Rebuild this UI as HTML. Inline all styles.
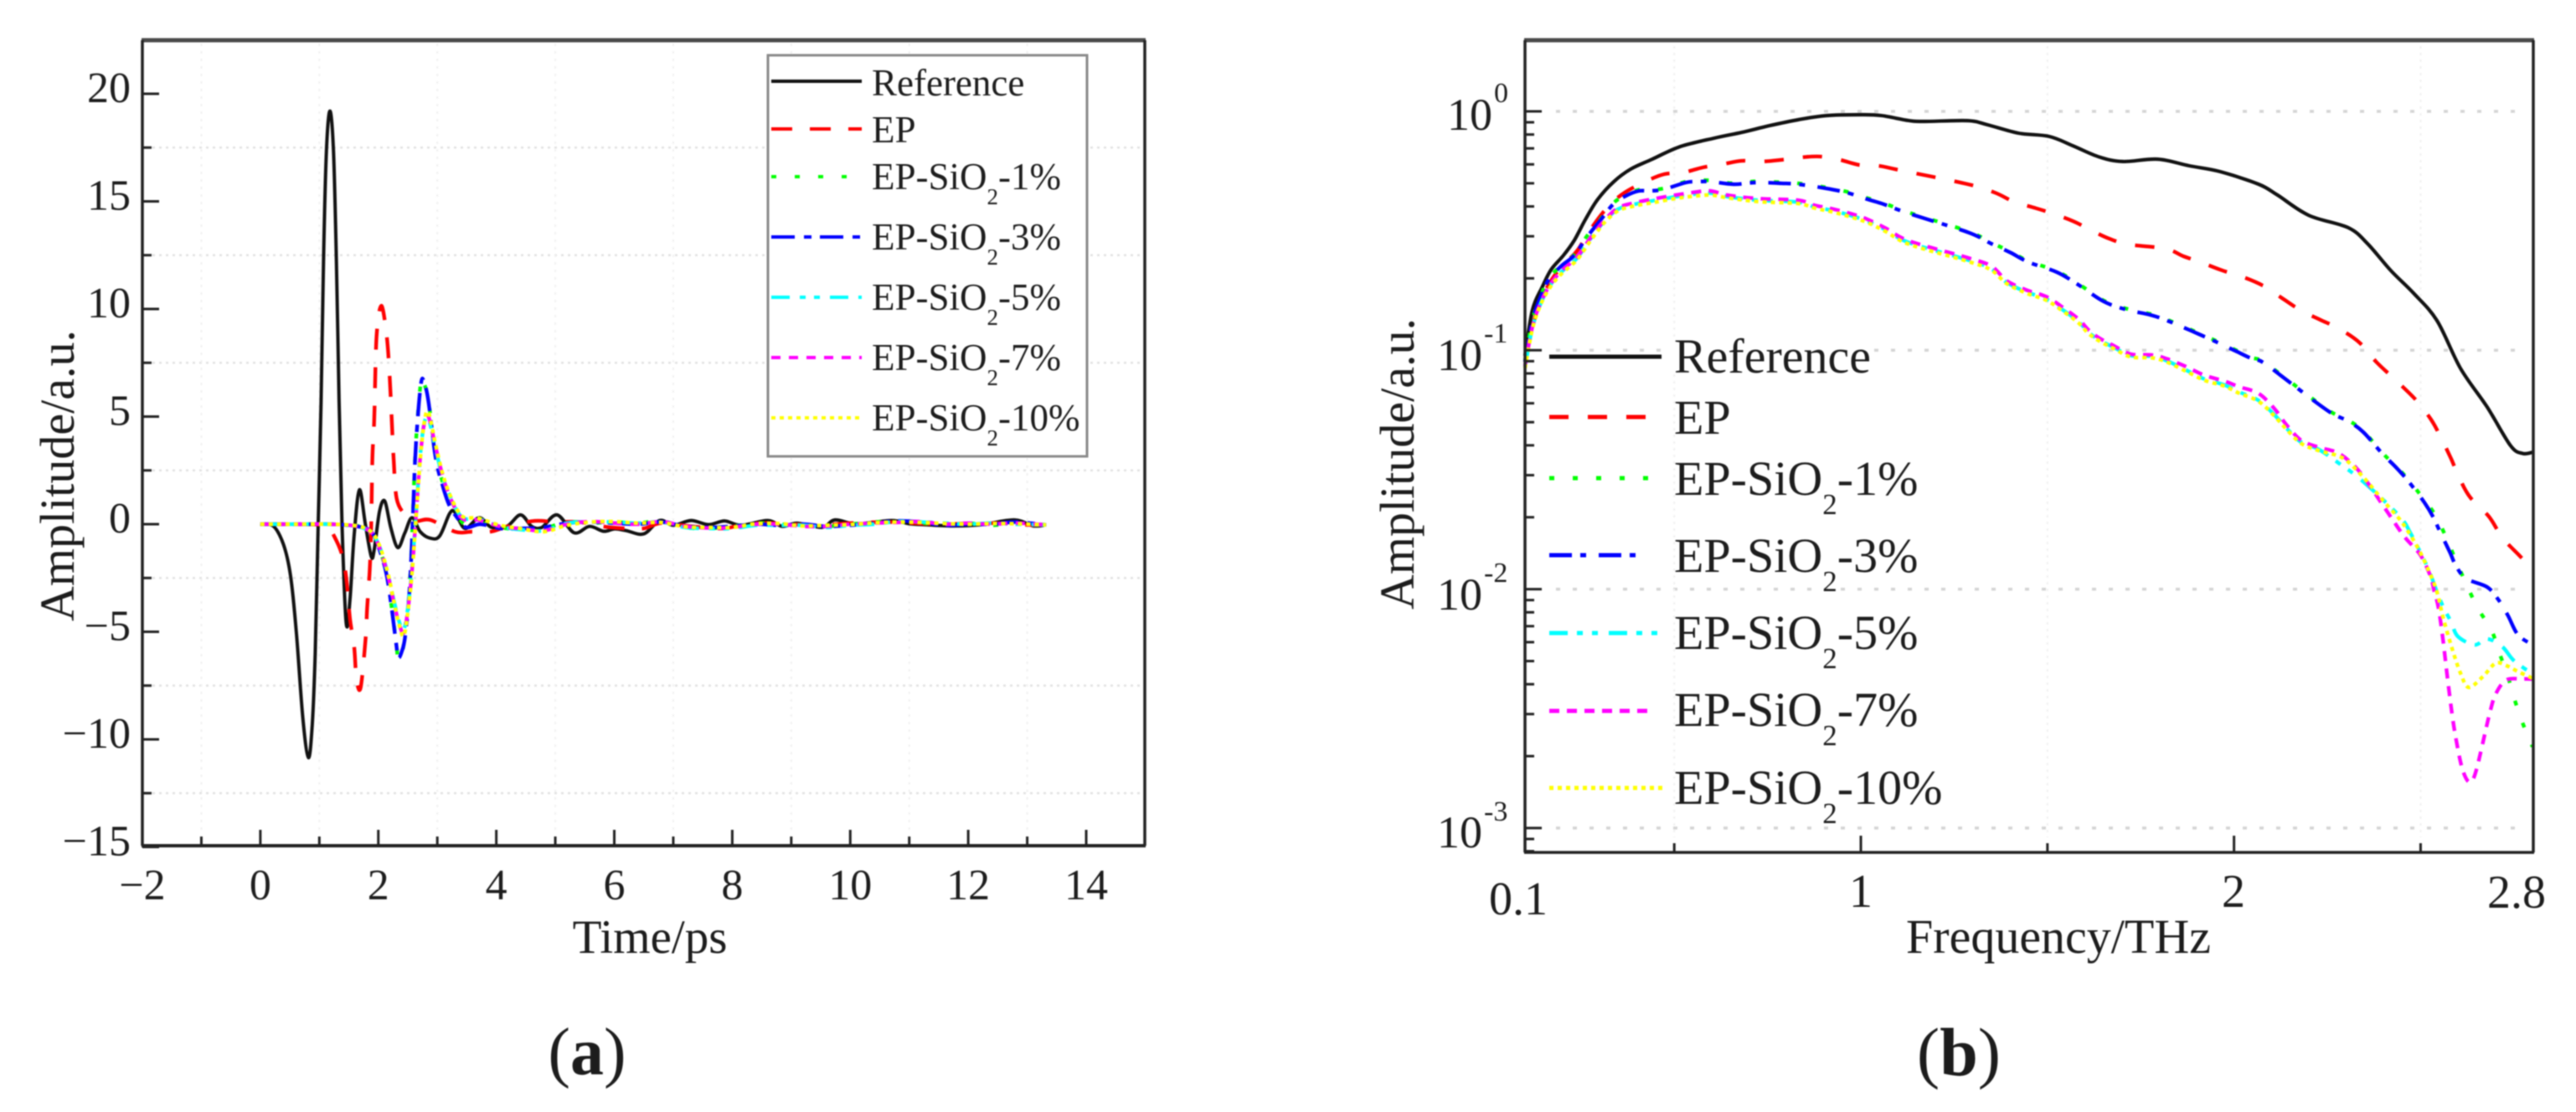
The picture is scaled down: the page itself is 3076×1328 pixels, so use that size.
<!DOCTYPE html>
<html lang="en">
<head>
<meta charset="utf-8">
<title>Amplitude versus time and frequency</title>
<style>
html,body{margin:0;padding:0;background:#fff;width:3076px;height:1328px;overflow:hidden}
svg{display:block;filter:blur(0.9px)}
text{font-family:"Liberation Serif",serif;fill:#1c1c1c}
</style>
</head>
<body>
<svg id="figure" xmlns="http://www.w3.org/2000/svg" width="3076" height="1328" viewBox="0 0 3076 1328">
  <rect x="0" y="0" width="3076" height="1328" fill="#fff"/>

  <g id="panelA">
    <g id="gridA"></g>
    <g id="seriesA"></g>
    <g id="axesA"></g>
    <text x="88" y="568" font-size="58" text-anchor="middle" transform="rotate(-90 88 568)">Amplitude/a.u.</text>
    <text x="776" y="1138" font-size="57" text-anchor="middle">Time/ps</text>
    <rect x="917" y="66" width="381" height="479" fill="#fff" stroke="#8a8a8a" stroke-width="3"/>
    <g id="legendLinesA"></g>
    <g font-size="45">
      <text x="1041" y="114">Reference</text>
      <text x="1041" y="170">EP</text>
      <text x="1041" y="226">EP-SiO<tspan dy="18" font-size="27">2</tspan><tspan dy="-18">-1%</tspan></text>
      <text x="1041" y="298">EP-SiO<tspan dy="18" font-size="27">2</tspan><tspan dy="-18">-3%</tspan></text>
      <text x="1041" y="370">EP-SiO<tspan dy="18" font-size="27">2</tspan><tspan dy="-18">-5%</tspan></text>
      <text x="1041" y="442">EP-SiO<tspan dy="18" font-size="27">2</tspan><tspan dy="-18">-7%</tspan></text>
      <text x="1041" y="514">EP-SiO<tspan dy="18" font-size="27">2</tspan><tspan dy="-18">-10%</tspan></text>
    </g>
    <text x="701" y="1283" font-size="80" text-anchor="middle">(<tspan font-weight="bold">a</tspan>)</text>
  </g>

  <g id="panelB">
    <g id="gridB"></g>
    <g id="seriesB"></g>
    <g id="axesB"></g>
    <g font-size="54">
      <text x="1782" y="155" text-anchor="end">10</text>
      <text x="1784" y="122" font-size="34">0</text>
      <text x="1770" y="442" text-anchor="end">10</text>
      <text x="1772" y="409" font-size="34">-1</text>
      <text x="1770" y="728" text-anchor="end">10</text>
      <text x="1772" y="695" font-size="34">-2</text>
      <text x="1770" y="1012" text-anchor="end">10</text>
      <text x="1772" y="980" font-size="34">-3</text>
    </g>
    <g font-size="56" text-anchor="middle">
      <text x="1813" y="1092">0.1</text>
      <text x="2222" y="1083">1</text>
      <text x="2667" y="1083">2</text>
      <text x="3005" y="1084">2.8</text>
    </g>
    <text x="1688" y="554" font-size="58" text-anchor="middle" transform="rotate(-90 1688 554)">Amplitude/a.u.</text>
    <text x="2458" y="1138" font-size="58" text-anchor="middle">Frequency/THz</text>
    <rect x="1990" y="404" width="246" height="40" fill="#fff"/>
    <g id="legendLinesB"></g>
    <g font-size="58">
      <text x="1999" y="445">Reference</text>
      <text x="1999" y="518">EP</text>
      <text x="1999" y="591">EP-SiO<tspan dy="23" font-size="35">2</tspan><tspan dy="-23">-1%</tspan></text>
      <text x="1999" y="683">EP-SiO<tspan dy="23" font-size="35">2</tspan><tspan dy="-23">-3%</tspan></text>
      <text x="1999" y="775">EP-SiO<tspan dy="23" font-size="35">2</tspan><tspan dy="-23">-5%</tspan></text>
      <text x="1999" y="867">EP-SiO<tspan dy="23" font-size="35">2</tspan><tspan dy="-23">-7%</tspan></text>
      <text x="1999" y="960">EP-SiO<tspan dy="23" font-size="35">2</tspan><tspan dy="-23">-10%</tspan></text>
    </g>
    <text x="2339" y="1284" font-size="82" text-anchor="middle">(<tspan font-weight="bold">b</tspan>)</text>
  </g>
</svg>

<script>
/* ---------- Panel (a): time-domain amplitude ---------- */
const timeTicks = [-2, 0, 2, 4, 6, 8, 10, 12, 14];
const timeMinorTicks = [-1, 1, 3, 5, 7, 9, 11, 13];
const ampTicks = [-15, -10, -5, 0, 5, 10, 15, 20];
const ampMinorTicks = [-12.5, -7.5, -2.5, 2.5, 7.5, 12.5, 17.5];

const timeReference = [0,.22,.39,.51,.61,.72,.815,.88,.93,.98,1.03,1.07,1.12,1.18,1.24,1.29,1.335,1.384,1.455,1.52,1.59,1.68,1.78,1.88,1.93,2.02,2.11,2.21,2.33,2.45,2.57,2.71,2.88,3.04,3.21,3.3,3.47,3.71,3.92,4.18,4.41,4.6,4.77,5.03,5.32,5.58,5.82,6.0,6.2,6.5,6.77,7.0,7.3,7.6,7.87,8.15,8.6,8.85,9.1,9.52,9.74,10.1,10.7,11.0,11.3,11.75,12.2,12.78,13.1,13.32];
const ampReference = [0,-.09,-.93,-2.36,-5,-9,-10.85,-9.3,-6,-.1,5.7,12.2,17.35,19.2,17.35,12.2,5.7,0,-4.6,-3.5,-.5,1.6,0,-1.5,-1.2,.6,1.07,-.15,-1.09,-.4,.3,-.35,-.65,-.55,.5,.55,-.2,.3,-.15,-.1,.43,-.1,-.15,.43,-.4,-.1,-.33,-.22,-.3,-.45,.17,-.05,.17,-.02,.15,-.05,.17,-.1,.05,-.15,.2,.02,.17,.02,-.03,-.08,-.03,.2,-.08,-.03];

const timeEP = [0,.5,1.0,1.15,1.25,1.37,1.45,1.52,1.59,1.63,1.70,1.785,1.81,1.855,1.88,1.90,1.93,1.97,2.05,2.14,2.19,2.225,2.26,2.31,2.45,2.64,2.88,3.3,3.59,3.9,4.2,4.65,5.0,5.4,5.8,6.2,6.5,6.8,7.3,7.85,8.2,8.6,9,9.5,10,10.6,11,11.5,12,12.6,13,13.32];
const ampEP = [0,0,-.02,-.15,-.55,-1.3,-2.35,-4.4,-5.7,-7.2,-7.6,-5.3,-3.9,-2.1,0,3.1,4.8,8.7,10.15,8.8,7,5,3,1.2,.45,.15,.2,-.35,-.35,-.35,-.1,.15,.1,.1,-.1,-.2,-.2,.05,-.1,-.2,0,.05,0,-.05,.05,.1,.05,0,.03,.05,-.03,-.03];

const timeFast = [0,.6,1.2,1.64,1.88,2.02,2.14,2.23,2.3,2.34,2.4,2.45,2.52,2.57,2.62,2.67,2.73,2.78,2.85,2.97,3.09,3.2,3.35,3.49,3.73,4.06,4.4,4.8,5.2,5.6,6.0,6.4,6.8,7.2,7.6,8,8.4,8.8,9.2,9.6,10,10.4,10.8,11.2,11.6,12,12.4,12.8,13.32];
const ampSiO2Pct1 = [0,0,0,-.08,-.3,-1.15,-2.3,-3.95,-5.45,-6.3,-6,-5.2,-3.3,-.7,2.9,5.1,6.75,6.5,5.75,3.2,1.95,1,.35,-.05,.05,-.15,-.25,-.2,.1,.05,.1,.05,.15,-.15,-.2,-.1,.05,0,-.05,-.1,0,.1,.1,.05,0,.05,-.05,.05,-.03];
const ampSiO2Pct3 = [0,0,0,-.1,-.35,-1.2,-2.35,-4,-5.5,-6.2,-5.9,-5.3,-3.4,-.8,2.8,5,6.65,6.55,5.7,3.1,1.8,.9,.25,-.15,0,-.2,-.2,-.15,.05,.1,.05,0,.1,-.1,-.15,-.1,0,-.05,0,-.1,-.05,.05,.15,.1,-.05,0,0,.1,-.03];

const timeSlow = [0,.6,1.2,1.64,1.88,2.02,2.16,2.26,2.35,2.43,2.5,2.57,2.64,2.71,2.78,2.85,2.97,3.09,3.2,3.35,3.47,3.68,4.06,4.4,4.8,5.2,5.6,6.0,6.4,6.8,7.2,7.6,8,8.4,8.8,9.2,9.6,10,10.4,10.8,11.2,11.6,12,12.4,12.8,13.32];
const ampSiO2Pct5 = [0,0,0,-.1,-.4,-1.05,-2.3,-3.5,-4.5,-4.9,-3.9,-2.1,.5,3.2,4.7,4.9,3.5,2.2,1.4,.55,.25,.25,-.1,-.25,-.3,.05,.1,.1,.05,.1,-.15,-.2,-.2,-.05,-.05,-.05,-.15,-.05,0,.12,.1,.05,0,.05,0,-.03];
const ampSiO2Pct7 = [0,0,0,-.1,-.38,-1.1,-2.35,-3.6,-4.6,-5.05,-4,-2.2,.4,3.1,4.7,5,3.6,2.25,1.35,.5,.2,.2,-.1,-.2,-.3,0,.12,.05,0,.12,-.1,-.18,-.15,0,0,-.1,-.1,0,.05,.08,.12,0,.05,0,.05,-.03];
const ampSiO2Pct10 = [0,0,0,-.08,-.35,-1.0,-2.25,-3.55,-4.65,-5.2,-4.1,-2.3,.3,3.0,4.75,5.2,3.7,2.35,1.45,.6,.3,.28,-.05,-.2,-.35,-.05,.1,.12,.05,.08,-.12,-.15,-.15,.02,.03,-.08,-.05,-.02,.06,.1,.08,.03,0,.03,.02,-.03];

/* ---------- Panel (b): spectra, amplitudes given as log10(amplitude) ---------- */
const freqMinorTicks = [0.5, 1.5, 2.5];
const freqMajorTicks = [1, 2];
const logAmpDecades = [0, -1, -2, -3];
const logAmpMinorMantissa = [2, 3, 4, 5, 6, 7, 8, 9];

const freqReference = [.10,.12,.147,.17,.203,.232,.262,.295,.338,.383,.441,.517,.607,.681,.755,.832,.906,1.002,1.056,1.13,1.17,1.287,1.339,1.422,1.505,1.568,1.639,1.702,1.796,1.88,1.962,2.066,2.117,2.2,2.306,2.358,2.42,2.481,2.544,2.607,2.678,2.741,2.773,2.8];
const logReference = [-1.023,-.831,-.733,-.662,-.603,-.54,-.452,-.368,-.294,-.242,-.2,-.147,-.112,-.088,-.06,-.035,-.018,-.014,-.018,-.039,-.042,-.039,-.056,-.091,-.105,-.144,-.191,-.21,-.2,-.228,-.252,-.305,-.351,-.435,-.487,-.554,-.666,-.761,-.876,-1.076,-1.237,-1.399,-1.432,-1.427];

const freqEP = [.10,.12,.143,.17,.199,.239,.277,.322,.367,.423,.473,.524,.576,.63,.681,.733,.787,.838,.89,.944,.995,1.047,1.101,1.287,1.359,1.411,1.464,1.511,1.568,1.619,1.666,1.718,1.817,1.864,1.92,1.967,2.025,2.077,2.129,2.18,2.232,2.283,2.337,2.382,2.436,2.488,2.528,2.555,2.582,2.604,2.633,2.683,2.719,2.764,2.8];
const logEP = [-1.048,-.901,-.789,-.708,-.648,-.585,-.491,-.4,-.34,-.294,-.263,-.256,-.235,-.221,-.207,-.21,-.203,-.193,-.189,-.203,-.224,-.228,-.245,-.305,-.34,-.379,-.403,-.426,-.459,-.499,-.533,-.557,-.575,-.606,-.637,-.665,-.694,-.729,-.782,-.834,-.873,-.911,-.969,-1.05,-1.129,-1.209,-1.29,-1.367,-1.455,-1.535,-1.616,-1.696,-1.784,-1.858,-1.917];

const freqSiO2Pct1 = [.10,.12,.143,.165,.199,.232,.266,.304,.338,.374,.405,.434,.473,.531,.565,.598,.659,.719,.787,.832,.906,.962,1.011,1.056,1.13,1.287,1.35,1.402,1.449,1.525,1.583,1.651,1.714,1.776,1.821,1.88,1.951,2.003,2.046,2.077,2.14,2.212,2.263,2.306,2.346,2.398,2.436,2.47,2.498,2.539,2.57,2.595,2.622,2.653,2.69,2.712,2.734,2.753,2.775,2.8];
const logSiO2Pct1 = [-1.045,-.872,-.768,-.698,-.642,-.6,-.522,-.448,-.382,-.347,-.328,-.328,-.322,-.294,-.289,-.289,-.301,-.293,-.297,-.301,-.318,-.336,-.36,-.381,-.424,-.502,-.55,-.588,-.627,-.669,-.722,-.792,-.827,-.848,-.872,-.911,-.96,-.998,-1.03,-1.046,-1.119,-1.205,-1.261,-1.293,-1.338,-1.43,-1.489,-1.546,-1.602,-1.689,-1.789,-1.882,-1.977,-2.079,-2.172,-2.271,-2.366,-2.468,-2.567,-2.66];

const freqSiO2Pct3 = [.10,.12,.143,.165,.199,.232,.266,.304,.338,.374,.405,.434,.473,.531,.565,.598,.659,.719,.787,.832,.906,.962,1.011,1.056,1.13,1.287,1.35,1.402,1.449,1.525,1.583,1.651,1.714,1.776,1.821,1.88,1.951,2.003,2.046,2.077,2.14,2.212,2.263,2.306,2.346,2.398,2.436,2.47,2.51,2.533,2.551,2.578,2.595,2.622,2.678,2.708,2.734,2.761,2.8];
const logSiO2Pct3 = [-1.048,-.876,-.771,-.701,-.645,-.603,-.526,-.452,-.386,-.351,-.333,-.333,-.326,-.298,-.294,-.294,-.305,-.298,-.301,-.305,-.322,-.34,-.365,-.386,-.428,-.506,-.554,-.592,-.631,-.673,-.726,-.796,-.831,-.852,-.876,-.915,-.964,-1.002,-1.034,-1.05,-1.123,-1.209,-1.265,-1.297,-1.342,-1.434,-1.493,-1.554,-1.637,-1.696,-1.756,-1.844,-1.903,-1.956,-1.991,-2.043,-2.11,-2.191,-2.233];

const freqSiO2Pct5 = [.10,.12,.143,.17,.199,.239,.277,.315,.351,.396,.45,.502,.547,.596,.643,.726,.832,.876,.921,.973,1.018,1.069,1.13,1.287,1.35,1.39,1.442,1.496,1.536,1.583,1.61,1.64,1.678,1.723,1.781,1.821,1.868,1.92,1.974,2.014,2.066,2.108,2.14,2.18,2.227,2.29,2.335,2.409,2.454,2.472,2.492,2.521,2.544,2.562,2.582,2.6,2.645,2.678,2.719,2.75,2.8];
const logSiO2Pct5 = [-1.07,-.905,-.8,-.722,-.67,-.615,-.53,-.456,-.408,-.388,-.372,-.358,-.348,-.342,-.357,-.372,-.38,-.4,-.414,-.436,-.46,-.498,-.55,-.622,-.66,-.715,-.755,-.785,-.825,-.88,-.925,-.958,-.988,-1.022,-1.026,-1.045,-1.08,-1.12,-1.145,-1.175,-1.21,-1.27,-1.325,-1.385,-1.415,-1.483,-1.535,-1.64,-1.714,-1.763,-1.823,-1.917,-2.012,-2.079,-2.138,-2.198,-2.233,-2.208,-2.241,-2.299,-2.355];

const freqSiO2Pct7 = [.10,.12,.143,.17,.199,.239,.277,.315,.351,.396,.45,.502,.547,.596,.643,.726,.832,.876,.921,.973,1.018,1.069,1.13,1.287,1.35,1.39,1.442,1.496,1.536,1.583,1.61,1.64,1.678,1.723,1.781,1.821,1.868,1.92,1.974,2.014,2.066,2.108,2.14,2.18,2.227,2.279,2.326,2.364,2.393,2.425,2.458,2.499,2.526,2.537,2.548,2.56,2.571,2.584,2.595,2.611,2.627,2.64,2.652,2.667,2.685,2.701,2.73,2.775,2.8];
const logSiO2Pct7 = [-1.066,-.901,-.796,-.719,-.666,-.61,-.526,-.452,-.403,-.382,-.365,-.351,-.34,-.333,-.351,-.365,-.372,-.393,-.407,-.428,-.452,-.491,-.543,-.613,-.648,-.708,-.747,-.775,-.815,-.869,-.915,-.95,-.981,-1.016,-1.02,-1.036,-1.066,-1.104,-1.129,-1.153,-1.181,-1.244,-1.311,-1.377,-1.406,-1.43,-1.49,-1.567,-1.635,-1.709,-1.783,-1.856,-1.944,-2.012,-2.079,-2.212,-2.359,-2.52,-2.629,-2.748,-2.804,-2.797,-2.741,-2.641,-2.52,-2.44,-2.38,-2.376,-2.376];

const freqSiO2Pct10 = [.10,.12,.143,.17,.199,.239,.277,.315,.351,.396,.45,.502,.547,.596,.643,.726,.832,.876,.921,.973,1.018,1.069,1.13,1.287,1.35,1.39,1.442,1.496,1.536,1.583,1.61,1.64,1.678,1.723,1.781,1.821,1.868,1.92,1.974,2.014,2.066,2.108,2.14,2.18,2.227,2.29,2.34,2.4,2.45,2.49,2.521,2.544,2.56,2.584,2.607,2.629,2.667,2.701,2.73,2.761,2.8];
const logSiO2Pct10 = [-1.075,-.91,-.805,-.73,-.678,-.622,-.538,-.462,-.415,-.395,-.38,-.365,-.356,-.35,-.362,-.378,-.386,-.405,-.42,-.442,-.466,-.505,-.557,-.628,-.665,-.72,-.76,-.79,-.83,-.885,-.93,-.962,-.993,-1.028,-1.032,-1.05,-1.085,-1.125,-1.15,-1.18,-1.214,-1.275,-1.33,-1.39,-1.42,-1.45,-1.52,-1.63,-1.72,-1.82,-1.92,-2.012,-2.117,-2.247,-2.352,-2.411,-2.366,-2.31,-2.32,-2.345,-2.373];

/* ---------- Axis functions ---------- */
function xA(t) { return 170 + (t + 2) * 70.44; }
function yA(v) { return 626 - v * 25.7; }
function xB(f) { return 1821 + (f - 0.1) * 445.6; }
function yB(logAmp) { return 133 - logAmp * 285.3; }

const NS = 'http://www.w3.org/2000/svg';
function line(parent, x1, y1, x2, y2, stroke, width, dash) {
  const el = document.createElementNS(NS, 'line');
  el.setAttribute('x1', x1);
  el.setAttribute('y1', y1);
  el.setAttribute('x2', x2);
  el.setAttribute('y2', y2);
  el.setAttribute('stroke', stroke);
  el.setAttribute('stroke-width', width);
  if (dash) el.setAttribute('stroke-dasharray', dash);
  parent.appendChild(el);
  return el;
}
function smoothPath(pts) {
  let d = 'M' + pts[0][0].toFixed(1) + ' ' + pts[0][1].toFixed(1);
  for (let i = 0; i < pts.length - 1; i++) {
    const p0 = pts[Math.max(i - 1, 0)], p1 = pts[i], p2 = pts[i + 1], p3 = pts[Math.min(i + 2, pts.length - 1)];
    const c1x = p1[0] + (p2[0] - p0[0]) / 6, c1y = p1[1] + (p2[1] - p0[1]) / 6;
    const c2x = p2[0] - (p3[0] - p1[0]) / 6, c2y = p2[1] - (p3[1] - p1[1]) / 6;
    d += 'C' + c1x.toFixed(1) + ' ' + c1y.toFixed(1) + ' ' + c2x.toFixed(1) + ' ' + c2y.toFixed(1) + ' ' + p2[0].toFixed(1) + ' ' + p2[1].toFixed(1);
  }
  return d;
}
function drawSeries(parent, xs, ys, xFn, yFn, color, width, dash, name) {
  const pts = xs.map((x, i) => [xFn(x), yFn(ys[i])]);
  const el = document.createElementNS(NS, 'path');
  el.setAttribute('d', smoothPath(pts));
  el.setAttribute('fill', 'none');
  el.setAttribute('stroke', color);
  el.setAttribute('stroke-width', width);
  el.setAttribute('stroke-linejoin', 'round');
  if (dash) el.setAttribute('stroke-dasharray', dash);
  
  
  parent.appendChild(el);
}

/* ---------- Draw panel (a) ---------- */
const gridA = document.getElementById('gridA');
const seriesA = document.getElementById('seriesA');
const axesA = document.getElementById('axesA');
const legendLinesA = document.getElementById('legendLinesA');
const left = 170, right = 1367, top_ = 48, bottom = 1010;

ampMinorTicks.forEach(v => {
  const g = line(gridA, 182, yA(v), 1362, yA(v), '#e2e2e2', 2.5, '3 5');
  
  
});
timeMinorTicks.forEach(t => {
  const g = line(gridA, xA(t), 52, xA(t), 995, '#f1f1f1', 2, '3 6');
  
  
});

const dashA = { ep: '25 21', p1: '6 22', p3: '28 11 9 10', p5: '22 12 7 10 7 12', p7: '11 10', p10: '5 5' };
drawSeries(seriesA, timeReference, ampReference, xA, yA, '#111', 4, null, 'series-reference-time');
drawSeries(seriesA, timeEP, ampEP, xA, yA, '#ff0000', 4.4, dashA.ep, 'series-ep-time');
drawSeries(seriesA, timeFast, ampSiO2Pct1, xA, yA, '#00ff00', 4.4, dashA.p1, 'series-sio2-1-time');
drawSeries(seriesA, timeFast, ampSiO2Pct3, xA, yA, '#0000ff', 4.4, dashA.p3, 'series-sio2-3-time');
drawSeries(seriesA, timeSlow, ampSiO2Pct5, xA, yA, '#00ffff', 4.4, dashA.p5, 'series-sio2-5-time');
drawSeries(seriesA, timeSlow, ampSiO2Pct7, xA, yA, '#ff00ff', 4.4, dashA.p7, 'series-sio2-7-time');
drawSeries(seriesA, timeSlow, ampSiO2Pct10, xA, yA, '#ffff00', 4.4, dashA.p10, 'series-sio2-10-time');

line(axesA, left - 1, top_, right + 1, top_, '#4a4a4a', 5);
line(axesA, left - 1, bottom, right + 1, bottom, '#222', 4);
line(axesA, left, top_, left, bottom, '#222', 3.5);
line(axesA, right, top_, right, bottom, '#222', 3.5);
timeTicks.forEach(t => {
  line(axesA, xA(t), bottom, xA(t), bottom - 19, '#222', 3);
  const lab = document.createElementNS(NS, 'text');
  lab.setAttribute('x', xA(t));
  lab.setAttribute('y', 1074);
  lab.setAttribute('font-size', 52);
  lab.setAttribute('text-anchor', 'middle');
  
  
  lab.textContent = String(t).replace('-', '\u2212');
  axesA.appendChild(lab);
});
timeMinorTicks.forEach(t => line(axesA, xA(t), bottom, xA(t), bottom - 11, '#222', 3));
ampTicks.forEach(v => {
  line(axesA, left, yA(v), left + 20, yA(v), '#222', 3);
  const lab = document.createElementNS(NS, 'text');
  lab.setAttribute('x', 156);
  lab.setAttribute('y', yA(v) + 10);
  lab.setAttribute('font-size', 52);
  lab.setAttribute('text-anchor', 'end');
  
  
  lab.textContent = String(v).replace('-', '\u2212');
  axesA.appendChild(lab);
});
ampMinorTicks.forEach(v => line(axesA, left, yA(v), left + 11, yA(v), '#222', 3));

const legendRowsA = [97, 154, 211, 283, 355, 427, 499];
const legendColors = ['#111', '#ff0000', '#00ff00', '#0000ff', '#00ffff', '#ff00ff', '#ffff00'];
const legendDashA = [null, dashA.ep, dashA.p1, dashA.p3, dashA.p5, dashA.p7, dashA.p10];
legendRowsA.forEach((y, i) => {
  const l = line(legendLinesA, 921, y, 1029, y, legendColors[i], 4, legendDashA[i]);
  
  
});

/* ---------- Draw panel (b) ---------- */
const gridB = document.getElementById('gridB');
const seriesB = document.getElementById('seriesB');
const axesB = document.getElementById('axesB');
const legendLinesB = document.getElementById('legendLinesB');
const leftB = 1821, rightB = 3025, topB = 48, bottomB = 1018;

logAmpDecades.forEach(d => {
  const g = line(gridB, 1858, yB(d), 3010, yB(d), '#d4d4d4', 3.5, '5 15');
  
  
});
freqMinorTicks.forEach(f => {
  const g = line(gridB, xB(f), 55, xB(f), 1000, '#f1f1f1', 2, '3 5');
  
  
});

const dashB = { ep: '23 23', p1: '6 22', p3: '27 10 7 15', p5: '22 11 7 11 7 13', p7: '12 9', p10: '5 5' };
drawSeries(seriesB, freqReference, logReference, xB, yB, '#111', 4.2, null, 'series-reference-frequency');
drawSeries(seriesB, freqEP, logEP, xB, yB, '#ff0000', 4.4, dashB.ep, 'series-ep-frequency');
drawSeries(seriesB, freqSiO2Pct1, logSiO2Pct1, xB, yB, '#00ff00', 4.4, dashB.p1, 'series-sio2-1-frequency');
drawSeries(seriesB, freqSiO2Pct3, logSiO2Pct3, xB, yB, '#0000ff', 4.4, dashB.p3, 'series-sio2-3-frequency');
drawSeries(seriesB, freqSiO2Pct5, logSiO2Pct5, xB, yB, '#00ffff', 4.4, dashB.p5, 'series-sio2-5-frequency');
drawSeries(seriesB, freqSiO2Pct7, logSiO2Pct7, xB, yB, '#ff00ff', 4.4, dashB.p7, 'series-sio2-7-frequency');
drawSeries(seriesB, freqSiO2Pct10, logSiO2Pct10, xB, yB, '#ffff00', 4.4, dashB.p10, 'series-sio2-10-frequency');

line(axesB, leftB - 1, topB, rightB + 1, topB, '#4a4a4a', 5);
line(axesB, leftB - 1, bottomB, rightB + 1, bottomB, '#222', 3.5);
line(axesB, leftB, topB, leftB, bottomB, '#222', 3.5);
line(axesB, rightB, topB, rightB, bottomB, '#222', 3.5);
freqMajorTicks.forEach(f => line(axesB, xB(f), bottomB, xB(f), bottomB - 20, '#222', 3));
freqMinorTicks.forEach(f => line(axesB, xB(f), bottomB, xB(f), bottomB - 11, '#222', 3));
logAmpDecades.forEach(d => {
  line(axesB, leftB, yB(d), leftB + 20, yB(d), '#222', 3);
  logAmpMinorMantissa.forEach(m => {
    const pos = d - 1 + Math.log10(m);
    if (pos >= -3.1) line(axesB, leftB, yB(pos), leftB + 11, yB(pos), '#222', 3);
  });
});

const legendRowsB = [426, 498, 571, 663, 756, 849, 941];
const legendEndB = [1984, 1966, 1970, 1958, 1981, 1968, 1986];
const legendDashB = [null, dashB.ep, dashB.p1, dashB.p3, dashB.p5, dashB.p7, dashB.p10];
legendRowsB.forEach((y, i) => {
  const l = line(legendLinesB, 1850, y, legendEndB[i], y, legendColors[i], 5, legendDashB[i]);
  
  
});
</script>
</body>
</html>
